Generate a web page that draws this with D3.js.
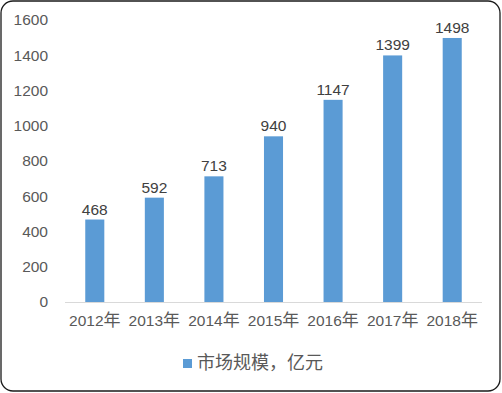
<!DOCTYPE html>
<html><head><meta charset="utf-8">
<script src="https://cdn.jsdelivr.net/npm/d3@7"></script>
<style>
html,body{margin:0;padding:0;background:#fff;}
svg{display:block;font-family:"Liberation Sans","Noto Sans CJK SC",sans-serif;}
</style></head>
<body>
<svg id="c" width="502" height="393"></svg>
<script>
const categories = ["2012年","2013年","2014年","2015年","2016年","2017年","2018年"];
const values = [468,592,713,940,1147,1399,1498];
const yTicks = [0,200,400,600,800,1000,1200,1400,1600];
const seriesName = "市场规模，亿元";

(function(){
const svg = d3.select("#c");
const W = 502, H = 393;
const LAT = "'Liberation Sans',sans-serif";
const CJK = "'Noto Sans CJK SC',sans-serif";
svg.append("rect").attr("x",1).attr("y",1).attr("width",W-3).attr("height",H-3)
  .attr("rx",12).attr("ry",12).attr("fill","#fff").attr("stroke","#1a1a1a").attr("stroke-width",1.3);

const pL = 65, pR = 482, pT = 20, pB = 302;
const x = d3.scaleBand().domain(categories).range([pL,pR]).paddingInner(0.68).paddingOuter(0.34);
const y = d3.scaleLinear().domain([0,1600]).range([pB,pT]);

const yAxis = svg.append("g").attr("transform",`translate(${pL},0)`)
  .call(d3.axisLeft(y).tickValues(yTicks).tickFormat(d3.format("d")).tickSize(0).tickPadding(17));
yAxis.select(".domain").remove();
yAxis.selectAll("text").attr("fill","#595959").style("font-size","15.5px")
  .style("font-family",LAT);

svg.append("g").selectAll("rect").data(values).join("rect")
  .attr("x",(d,i)=>x(categories[i]))
  .attr("width",x.bandwidth())
  .attr("y",d=>y(d))
  .attr("height",d=>pB-y(d))
  .attr("fill","#5B9BD5");

svg.append("line").attr("x1",pL).attr("x2",pR).attr("y1",pB+0.5).attr("y2",pB+0.5)
  .attr("stroke","#d9d9d9").attr("stroke-width",1);

svg.append("g").selectAll("text").data(values).join("text")
  .attr("x",(d,i)=>x(categories[i])+x.bandwidth()/2)
  .attr("y",d=>y(d)-5)
  .attr("text-anchor","middle")
  .attr("fill","#404040").style("font-size","15.5px").style("font-family",LAT)
  .text(d=>d);

const xAxis = svg.append("g").attr("transform",`translate(0,${pB})`)
  .call(d3.axisBottom(x).tickSize(0).tickPadding(17));
xAxis.select(".domain").remove();
xAxis.selectAll("text").attr("fill","#595959").each(function(d){
  const t = d3.select(this);
  t.text(null);
  const m = d.match(/^(\d+)(.*)$/);
  t.append("tspan").style("font-size","15.5px").style("font-family",LAT).text(m[1]);
  t.append("tspan").style("font-size","17px").style("font-family",CJK).text(m[2]);
});

const lg = svg.append("g").attr("transform","translate(183,359)");
lg.append("rect").attr("x",0).attr("y",0).attr("width",9).attr("height",9).attr("fill","#5B9BD5");
lg.append("text").attr("x",14).attr("y",5).attr("fill","#595959")
  .style("font-size","18px").style("font-family",CJK).attr("dominant-baseline","middle").text(seriesName);
})();
</script>
</body></html>
